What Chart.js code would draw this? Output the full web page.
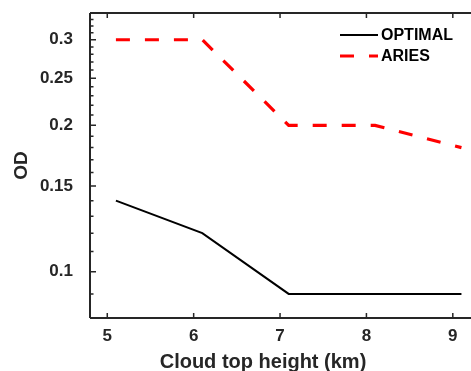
<!DOCTYPE html>
<html><head><meta charset="utf-8">
<script src="https://cdn.jsdelivr.net/npm/chart.js@4/dist/chart.umd.min.js"></script>
<style>html,body{margin:0;padding:0;overflow:hidden;background:#fff;width:471px;height:371px}
canvas{display:block}</style></head>
<body><canvas id="c" width="496" height="371" style="width:496px;height:371px"></canvas>
<script>
const cloudTopHeight = [5.1, 6.1, 7.1, 8.1, 9.1];
const optimalOD = [0.14, 0.12, 0.09, 0.09, 0.09];
const ariesOD = [0.30, 0.30, 0.20, 0.20, 0.18];
const seriesLabels = ['OPTIMAL', 'ARIES'];
const xTicks = [5, 6, 7, 8, 9];
const yTicks = [0.1, 0.15, 0.2, 0.25, 0.3];
const yTickLabels = ['0.1', '0.15', '0.2', '0.25', '0.3'];
const yMinorTicks = [0.09, 0.11, 0.12, 0.13, 0.14, 0.16, 0.17, 0.18, 0.19, 0.21, 0.22, 0.23, 0.24, 0.26, 0.27, 0.28, 0.29, 0.31, 0.32, 0.33, 0.34];
const xAxisTitle = 'Cloud top height (km)';
const yAxisTitle = 'OD';

const INK = '#262626';
const FAMILY = '"Liberation Sans", Arial, Helvetica, sans-serif';
Chart.defaults.font.family = FAMILY;

const framePlugin = {
  id: 'frame',
  afterDraw(chart) {
    const ctx = chart.ctx, a = chart.chartArea;
    const xs = chart.scales.x, ys = chart.scales.y;
    ctx.save();
    ctx.strokeStyle = INK;
    ctx.lineWidth = 2;
    ctx.beginPath();
    ctx.moveTo(a.left, a.top); ctx.lineTo(a.right, a.top);
    ctx.moveTo(a.left, a.top); ctx.lineTo(a.left, a.bottom);
    ctx.moveTo(a.left, a.bottom); ctx.lineTo(a.right, a.bottom);
    ctx.moveTo(a.right, a.top); ctx.lineTo(a.right, a.bottom);
    ctx.stroke();
    ctx.lineWidth = 1.5;
    ctx.beginPath();
    xTicks.forEach(v => {
      const p = xs.getPixelForValue(v);
      ctx.moveTo(p, a.bottom); ctx.lineTo(p, a.bottom - 5);
      ctx.moveTo(p, a.top); ctx.lineTo(p, a.top + 5);
    });
    yTicks.forEach(v => {
      const p = ys.getPixelForValue(v);
      ctx.moveTo(a.left, p); ctx.lineTo(a.left + 6, p);
      ctx.moveTo(a.right, p); ctx.lineTo(a.right - 6, p);
    });
    yMinorTicks.forEach(v => {
      const p = ys.getPixelForValue(v);
      ctx.moveTo(a.left, p); ctx.lineTo(a.left + 3.5, p);
      ctx.moveTo(a.right, p); ctx.lineTo(a.right - 3.5, p);
    });
    ctx.stroke();

    // x axis title
    ctx.fillStyle = INK;
    ctx.font = 'bold 20px ' + FAMILY;
    ctx.textAlign = 'center';
    ctx.textBaseline = 'alphabetic';
    ctx.fillText(xAxisTitle, a.left + 173, 367.5);

    // legend
    ctx.font = 'bold 16px ' + FAMILY;
    ctx.textAlign = 'left';
    ctx.textBaseline = 'middle';
    chart.data.datasets.forEach((ds, i) => {
      const y = a.top + 22 + i * 21;
      const x0 = a.left + 250, x1 = a.left + 288;
      ctx.save();
      ctx.strokeStyle = ds.borderColor;
      ctx.lineWidth = ds.borderWidth;
      ctx.setLineDash(ds.borderDash || []);
      ctx.lineCap = 'butt';
      ctx.beginPath(); ctx.moveTo(x0, y); ctx.lineTo(x1, y); ctx.stroke();
      ctx.restore();
      ctx.fillStyle = '#000';
      ctx.fillText(ds.label, x1 + 3, y + 1);
    });
    ctx.restore();
  }
};

const tickFont = { family: FAMILY, weight: 'bold', size: 17 };

new Chart(document.getElementById('c'), {
  type: 'line',
  data: {
    datasets: [
      {
        label: seriesLabels[0],
        data: cloudTopHeight.map((x, i) => ({ x: x, y: optimalOD[i] })),
        borderColor: '#000000',
        borderWidth: 2,
        pointRadius: 0,
        fill: false,
        tension: 0
      },
      {
        label: seriesLabels[1],
        data: cloudTopHeight.map((x, i) => ({ x: x, y: ariesOD[i] })),
        borderColor: '#ff0000',
        borderWidth: 3.2,
        borderDash: [14, 15],
        borderCapStyle: 'butt',
        pointRadius: 0,
        fill: false,
        tension: 0
      }
    ]
  },
  options: {
    responsive: false,
    animation: false,
    devicePixelRatio: 1,
    layout: { padding: { top: 13, left: 0, right: 0, bottom: 0 } },
    plugins: { legend: { display: false }, tooltip: { enabled: false } },
    scales: {
      x: {
        type: 'linear', min: 4.8, max: 9.5,
        afterBuildTicks: s => { s.ticks = xTicks.map(v => ({ value: v })); },
        ticks: { callback: v => String(v), font: tickFont, color: INK, padding: 8, maxRotation: 0, autoSkip: false },
        grid: { display: false, drawTicks: false },
        border: { display: false },
        afterFit: s => { s.height = 53; s.paddingLeft = 0; s.paddingRight = 0; }
      },
      y: {
        type: 'logarithmic', min: 0.0803, max: 0.3405,
        afterBuildTicks: s => { s.ticks = yTicks.map(v => ({ value: v })); },
        ticks: {
          callback: v => { const i = yTicks.indexOf(v); return i >= 0 ? yTickLabels[i] : ''; },
          font: tickFont, color: INK, padding: 17, autoSkip: false
        },
        grid: { display: false, drawTicks: false },
        border: { display: false },
        title: { display: true, text: yAxisTitle, color: INK, font: { family: FAMILY, weight: 'bold', size: 19 }, padding: { top: 10, bottom: 0 } },
        afterFit: s => { s.width = 90; s.paddingTop = 0; s.paddingBottom = 0; }
      }
    }
  },
  plugins: [framePlugin]
});
</script>
</body></html>
